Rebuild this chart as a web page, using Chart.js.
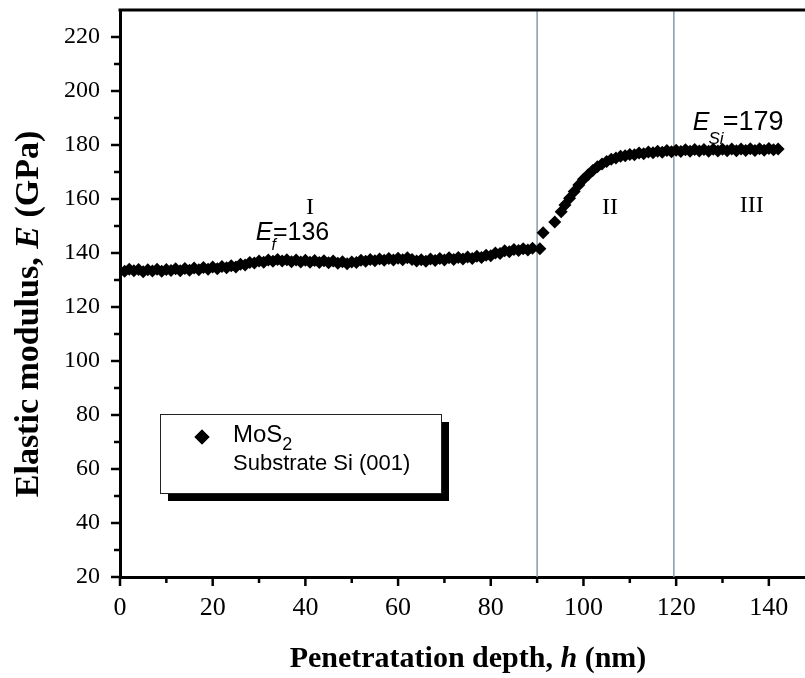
<!DOCTYPE html>
<html><head><meta charset="utf-8">
<script src="https://cdn.jsdelivr.net/npm/chart.js@4.4.1/dist/chart.umd.min.js"></script>
<style>html,body{margin:0;padding:0;background:#fff;} #wrap{width:805px;height:678px;}</style>
</head><body><div id="wrap"><canvas id="c" width="805" height="678"></canvas></div>
<script>
// Penetration depth (nm)
const depthNm = [
  1,2,3,4,5,6,7,8,9,10,11,12,13,14,15,16,17,18,19,20,
  21,22,23,24,25,26,27,28,29,30,31,32,33,34,35,36,37,38,39,40,
  41,42,43,44,45,46,47,48,49,50,51,52,53,54,55,56,57,58,59,60,
  61,62,63,64,65,66,67,68,69,70,71,72,73,74,75,76,77,78,79,80,
  81,82,83,84,85,86,87,88,89,90.6,91.3,93.8,95.2,
  96,97,98,99,100,101,102,103,104,105,106,107,108,109,110,
  111,112,113,114,115,116,117,118,119,120,121,122,123,124,125,
  126,127,128,129,130,131,132,133,134,135,136,137,138,139,140,141,142
];
// Elastic modulus E (GPa) of MoS2 on Si (001)
const modulusGPa = [
  133.2,134.0,133.4,133.9,133.1,133.8,133.3,134.0,133.2,133.9,
  133.5,134.2,133.4,134.3,133.6,134.4,133.8,134.6,134.0,134.8,
  134.2,135.0,134.5,135.3,134.8,135.8,135.6,136.5,136.3,137.0,
  136.6,137.4,136.9,137.6,137.0,137.5,136.8,137.4,136.7,137.3,
  136.6,137.2,136.5,137.1,136.4,137.0,136.2,136.8,136.0,136.7,
  136.5,137.3,136.9,137.6,137.1,137.8,137.3,138.0,137.4,138.1,
  137.5,138.2,137.6,137.0,137.5,136.9,137.8,137.2,138.0,137.4,
  138.2,137.6,138.3,137.8,138.5,138.0,138.8,138.3,139.2,139.0,
  140.0,139.8,140.8,140.5,141.3,140.9,141.6,141.1,141.8,141.6,
  147.5,151.5,155.3,
  157.8,160.3,162.8,165.2,167.3,169.0,170.6,171.9,173.0,173.9,174.7,175.2,175.8,176.0,176.5,
  176.4,177.0,176.8,177.4,177.1,177.7,177.3,178.0,177.5,178.1,177.6,178.2,177.7,178.3,177.8,
  178.3,177.7,178.4,177.8,178.4,177.9,178.5,177.9,178.5,178.0,178.6,178.0,178.6,178.1,178.7,178.2,178.5
];
const xTickStep = 20, yTickStep = 20;
const xRange = [0, 147.8], yRange = [20, 230];
const regionBoundaries = [90, 119.5];
const seriesName = 'MoS';
const seriesSub = '2';
const seriesNote = 'Substrate Si (001)';

const points = depthNm.map((d, i) => ({x: d, y: modulusGPa[i]}));

const SERIF = '"Liberation Serif", "Times New Roman", serif';
const SANS = '"Liberation Sans", Arial, sans-serif';

function drawRich(ctx, x, y, parts, align) {
  let total = 0;
  parts.forEach(p => { ctx.font = p.f; p.w = ctx.measureText(p.t).width; total += p.w + (p.dx || 0); });
  let cx = align === 'center' ? x - total / 2 : x;
  parts.forEach(p => { ctx.font = p.f; cx += (p.dx || 0); ctx.fillText(p.t, cx, y + (p.dy || 0)); cx += p.w; });
}

const decor = {
  id: 'decor',
  beforeDatasetsDraw(chart) {
    const {ctx, chartArea, scales: {x}} = chart;
    ctx.save();
    ctx.strokeStyle = '#8899a8';
    ctx.lineWidth = 1.5;
    regionBoundaries.forEach(v => {
      const px = x.getPixelForValue(v);
      ctx.beginPath(); ctx.moveTo(px, chartArea.top); ctx.lineTo(px, chartArea.bottom); ctx.stroke();
    });
    ctx.restore();
  },
  afterDraw(chart) {
    const {ctx, chartArea, scales: {x, y}} = chart;
    ctx.save();
    ctx.fillStyle = '#000';
    ctx.strokeStyle = '#000';
    // top frame line
    ctx.lineWidth = 3;
    ctx.beginPath(); ctx.moveTo(chartArea.left - 1.5, chartArea.top); ctx.lineTo(chart.width, chartArea.top); ctx.stroke();
    // tick marks (major + minor)
    ctx.lineWidth = 2.5;
    for (let v = yRange[0]; v <= yRange[1] - 5; v += yTickStep / 2) {
      const py = y.getPixelForValue(v);
      const len = (v % yTickStep === 0) ? 9 : 6;
      ctx.beginPath(); ctx.moveTo(chartArea.left, py); ctx.lineTo(chartArea.left - len, py); ctx.stroke();
    }
    for (let v = xRange[0]; v <= xRange[1] - 5; v += xTickStep / 2) {
      const px = x.getPixelForValue(v);
      const len = (v % xTickStep === 0) ? 9 : 6;
      ctx.beginPath(); ctx.moveTo(px, chartArea.bottom); ctx.lineTo(px, chartArea.bottom + len); ctx.stroke();
    }
    // axis titles
    ctx.textBaseline = 'alphabetic';
    drawRich(ctx, 468, 667, [
      {t: 'Penetratation depth, ', f: 'bold 30px ' + SERIF},
      {t: 'h', f: 'italic bold 30px ' + SERIF},
      {t: ' (nm)', f: 'bold 30px ' + SERIF}
    ], 'center');
    ctx.save();
    ctx.translate(38, 314);
    ctx.rotate(-Math.PI / 2);
    drawRich(ctx, 0, 0, [
      {t: 'Elastic modulus, ', f: 'bold 34px ' + SERIF},
      {t: 'E', f: 'italic bold 34px ' + SERIF},
      {t: ' (GPa)', f: 'bold 34px ' + SERIF}
    ], 'center');
    ctx.restore();
    // region labels
    ctx.font = '24px ' + SERIF;
    ctx.textAlign = 'center';
    ctx.fillText('I', x.getPixelForValue(41), y.getPixelForValue(154.4));
    ctx.fillText('II', x.getPixelForValue(105.7), y.getPixelForValue(154.4));
    ctx.fillText('III', x.getPixelForValue(136.3), y.getPixelForValue(155.2));
    ctx.textAlign = 'left';
    drawRich(ctx, x.getPixelForValue(29.3), y.getPixelForValue(144.8), [
      {t: 'E', f: 'italic 25px ' + SANS},
      {t: 'f', f: 'italic 16px ' + SANS, dy: 10, dx: -1},
      {t: '=136', f: '25px ' + SANS, dx: -3}
    ], 'left');
    drawRich(ctx, x.getPixelForValue(123.6), y.getPixelForValue(185.6), [
      {t: 'E', f: 'italic 25px ' + SANS},
      {t: 'Si', f: 'italic 17px ' + SANS, dy: 14, dx: -1},
      {t: '=179', f: '27px ' + SANS, dx: -1}
    ], 'left');
    // legend box with shadow
    const bx = 160, by = 414, bw = 281, bh = 79, sh = 8;
    ctx.fillStyle = '#000';
    ctx.fillRect(bx + sh, by + sh, bw, bh);
    ctx.fillStyle = '#fff';
    ctx.fillRect(bx, by, bw, bh);
    ctx.lineWidth = 1;
    ctx.strokeStyle = '#222';
    ctx.strokeRect(bx + 0.5, by + 0.5, bw, bh);
    ctx.fillStyle = '#000';
    Chart.helpers.drawPoint(ctx, {pointStyle: 'rectRot', radius: 7.5, borderWidth: 0}, 202, 437);
    ctx.fill();
    drawRich(ctx, 233, 442, [
      {t: seriesName, f: '24px ' + SANS},
      {t: seriesSub, f: '18px ' + SANS, dy: 8}
    ], 'left');
    ctx.font = '22px ' + SANS;
    ctx.fillText(seriesNote, 233, 470);
    ctx.restore();
  }
};

new Chart(document.getElementById('c'), {
  type: 'scatter',
  data: {
    datasets: [{
      label: seriesName + seriesSub,
      data: points,
      pointStyle: 'rectRot',
      pointRadius: 6.5,
      pointBackgroundColor: '#000',
      pointBorderWidth: 0,
      showLine: false
    }]
  },
  options: {
    responsive: false,
    animation: false,
    devicePixelRatio: 1,
    layout: {autoPadding: false, padding: {top: 10, right: 0, bottom: 0, left: 0}},
    plugins: {legend: {display: false}, tooltip: {enabled: false}},
    scales: {
      x: {
        type: 'linear', position: 'bottom', min: xRange[0], max: xRange[1],
        grid: {display: false, drawTicks: false},
        border: {display: true, width: 3, color: '#000'},
        ticks: {stepSize: xTickStep, includeBounds: false, autoSkip: false, maxRotation: 0,
          color: '#000', padding: 16, font: {family: SERIF, size: 26}},
        afterFit(s) { s.height = 101; s.paddingLeft = 0; s.paddingRight = 0; }
      },
      y: {
        type: 'linear', min: yRange[0], max: yRange[1],
        grid: {display: false, drawTicks: false},
        border: {display: true, width: 3, color: '#000'},
        ticks: {stepSize: yTickStep, includeBounds: false, autoSkip: false,
          color: '#000', padding: 20, font: {family: SERIF, size: 24}},
        afterFit(s) { s.width = 120; s.paddingTop = 0; s.paddingBottom = 0; }
      }
    }
  },
  plugins: [decor]
});
</script>
</body></html>
